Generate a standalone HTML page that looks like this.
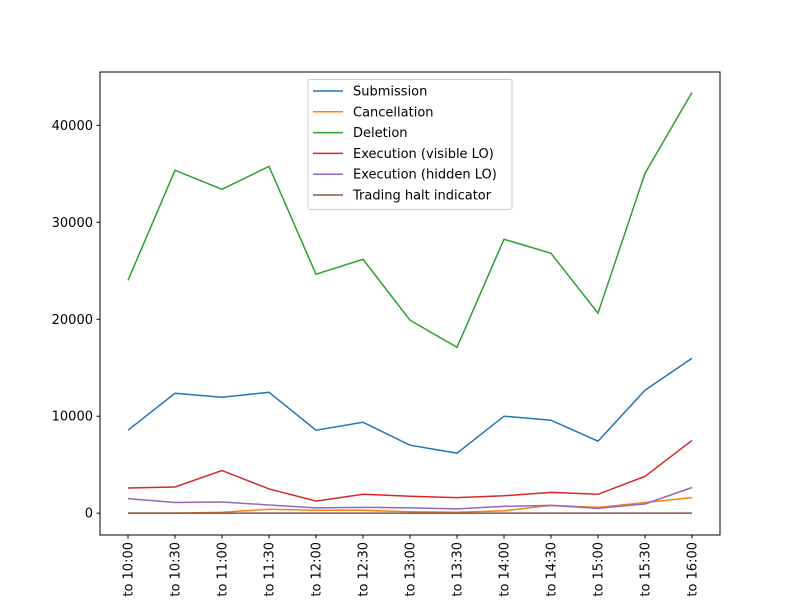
<!DOCTYPE html>
<html><head><meta charset="utf-8"><style>
html,body{margin:0;background:#fff;width:800px;height:600px;overflow:hidden;}
svg{display:block;overflow:hidden;font-family:"DejaVu Sans","Liberation Sans",sans-serif;}
</style></head><body>
<svg id="chart" width="800" height="600"></svg>
<script>
const categories=["09:30 to 10:00","10:00 to 10:30","10:30 to 11:00","11:00 to 11:30","11:30 to 12:00","12:00 to 12:30","12:30 to 13:00","13:00 to 13:30","13:30 to 14:00","14:00 to 14:30","14:30 to 15:00","15:00 to 15:30","15:30 to 16:00"];
const submission=[8560,12370,11960,12470,8560,9380,7010,6190,10000,9590,7420,12680,15980];
const cancellation=[0,0,100,400,300,300,150,100,250,800,600,1100,1600];
const deletion=[24020,35360,33400,35770,24640,26190,19900,17110,28250,26800,20620,35050,43400];
const execVisible=[2600,2700,4400,2500,1250,1950,1750,1600,1800,2150,1950,3800,7500];
const execHidden=[1500,1100,1150,850,550,600,550,450,700,800,500,950,2650];
const tradingHalt=[0,0,0,0,0,0,0,0,0,0,0,0,0];
const yTicks=[0,10000,20000,30000,40000];
const seriesNames=["Submission","Cancellation","Deletion","Execution (visible LO)","Execution (hidden LO)","Trading halt indicator"];
const seriesData=[submission,cancellation,deletion,execVisible,execHidden,tradingHalt];
const colors=["#1f77b4","#ff7f0e","#2ca02c","#d62728","#9467bd","#8c564b"];

const NS="http://www.w3.org/2000/svg";
const svg=document.getElementById("chart");
const L=100,R=720,T=72,B=535;
const yMin=-2250,yMax=45500;
const x=i=>128+i*(692-128)/(categories.length-1);
const y=v=>B-(v-yMin)/(yMax-yMin)*(B-T);
function mk(tag,attrs,parent){const e=document.createElementNS(NS,tag);for(const k in attrs)e.setAttribute(k,attrs[k]);(parent||svg).appendChild(e);return e;}

const lines=mk("g",{});


seriesData.forEach((d,s)=>{
  const p=mk("polyline",{points:d.map((v,i)=>x(i)+","+y(v)).join(" "),fill:"none",stroke:colors[s],"stroke-width":1.5},lines);
  
  
});

const frame=mk("rect",{x:L,y:T,width:R-L,height:B-T,fill:"none",stroke:"#000","stroke-width":1});



yTicks.forEach(t=>{
  mk("line",{x1:L-3.5,x2:L,y1:y(t),y2:y(t),stroke:"#000"});
  const tx=mk("text",{x:L-7,y:y(t)+4.5,"text-anchor":"end","font-size":13,fill:"#000"});
  tx.textContent=t;
  
  
});
const xl=mk("g",{});


categories.forEach((c,i)=>{
  mk("line",{x1:x(i),x2:x(i),y1:B,y2:B+3.5,stroke:"#000"});
  const tx=mk("text",{x:0,y:0,"text-anchor":"end","font-size":13,fill:"#000",transform:`translate(${x(i)+4.5},${B+7}) rotate(-90)`},xl);
  tx.textContent=c;
  
  
});

const lg=mk("g",{});


mk("rect",{x:308,y:79.5,width:204,height:130,rx:2,fill:"#fff","fill-opacity":0.8,stroke:"#ccc"},lg);
seriesNames.forEach((n,s)=>{
  const yy=91+s*20.8;
  mk("line",{x1:313,x2:343,y1:yy,y2:yy,stroke:colors[s],"stroke-width":1.5},lg);
  const tx=mk("text",{x:353,y:yy+4.5,"font-size":13,fill:"#000"},lg);
  tx.textContent=n;
  
  
});
</script>
</body></html>
